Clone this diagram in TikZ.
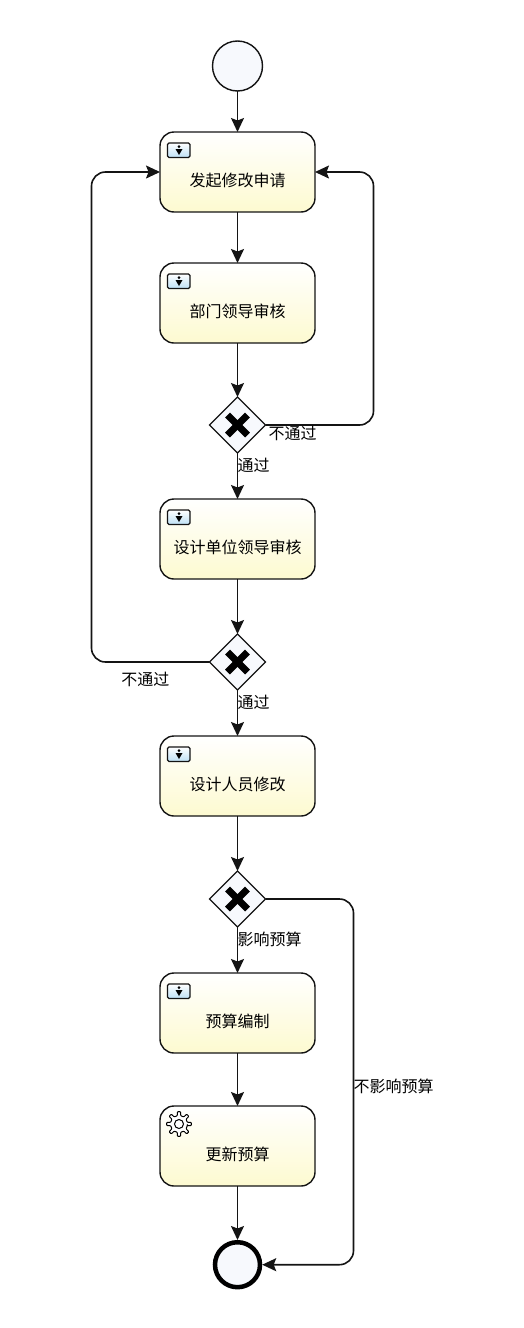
\documentclass[tikz,border=0pt]{standalone}
\usepackage{fontspec}
\newfontfamily\cjk{Noto Sans CJK SC}
\usepackage{tikz}
\usetikzlibrary{
  arrows.meta,
  positioning,
  shapes.geometric,
  calc
}
\definecolor{flowink}{RGB}{20,20,20}
\definecolor{eventfill}{RGB}{247,249,253}
\definecolor{taskyellow}{RGB}{253,250,208}
\definecolor{iconblue}{RGB}{190,225,245}
\tikzset{
  taskbox/.style={draw=flowink, line width=1.4pt, rounded corners=14pt,
    top color=white, bottom color=taskyellow, outer sep=0pt, inner sep=0pt,
    minimum width=155pt, minimum height=80pt,
    text height=31pt, text depth=3pt,
    font=\cjk\fontsize{16}{18}\selectfont},
  startev/.style={circle, draw=flowink, line width=1.4pt, fill=eventfill,
    minimum size=50pt, inner sep=0pt, outer sep=0pt},
  endev/.style={circle, draw=black, line width=4.5pt, fill=eventfill,
    minimum size=45pt, inner sep=0pt, outer sep=2.2pt},
  gatebox/.style={diamond, draw=flowink, line width=1.2pt, fill=eventfill,
    minimum size=56pt, inner sep=0pt, outer sep=0pt, aspect=1},
  arr/.style={-{Stealth[length=14pt, width=13pt, inset=2.5pt]},
    line width=1.6pt, draw=flowink},
  looparr/.style={arr, rounded corners=14pt},
  flowlab/.style={inner sep=0pt, font=\cjk\fontsize{16}{18}\selectfont,
    text height=13pt, text depth=3pt},
}
\newcommand{\gatecross}[1]{%
  \draw[line width=7pt, black] ($(#1)+(-10pt,-10pt)$) -- ($(#1)+(10pt,10pt)$);
  \draw[line width=7pt, black] ($(#1)+(-10pt,10pt)$) -- ($(#1)+(10pt,-10pt)$);
}
\newcommand{\manualicon}[1]{%
  \draw[line width=1.2pt, flowink, rounded corners=1.5pt, top color=white, bottom color=iconblue]
    ($(#1.north west)+(7.5pt,-11pt)$) rectangle ($(#1.north west)+(30pt,-25.5pt)$);
  \fill[black] ($(#1.north west)+(19pt,-14.5pt)$) circle (1.5pt);
  \fill[black] ($(#1.north west)+(15.5pt,-17pt)$) -- ($(#1.north west)+(22.5pt,-17pt)$)
    -- ($(#1.north west)+(19pt,-23pt)$) -- cycle;
}
\newcommand{\gearicon}[1]{%
  \coordinate (gearmid) at ($(#1.north west)+(19pt,-18pt)$);
  \begin{scope}[shift={(gearmid)}]
    \draw[line width=1pt, black, fill=white, rounded corners=0.8pt] (-11:8.5)
      foreach \a in {0,45,...,315} {
        -- (\a-11:8.5) -- (\a-7:12.5) -- (\a+7:12.5) -- (\a+11:8.5)
      } -- cycle;
    \draw[line width=1pt, black] (0,0) circle (4.5pt);
  \end{scope}
}
\begin{document}
\begin{tikzpicture}[x=1pt, y=1pt]
  \useasboundingbox (0,0) rectangle (523,-1328);

  % Main column, top to bottom
  \node[startev] (start) at (237.5,-66) {};
  \node[taskbox, below=41pt of start] (apply) {发起修改申请};
  \node[taskbox, below=51pt of apply] (dept) {部门领导审核};
  \node[gatebox, below=54pt of dept] (gateA) {};
  \node[taskbox, below=46pt of gateA] (unit) {设计单位领导审核};
  \node[gatebox, below=55pt of unit] (gateB) {};
  \node[taskbox, below=46pt of gateB] (modify) {设计人员修改};
  \node[gatebox, below=55pt of modify] (gateC) {};
  \node[taskbox, below=46pt of gateC] (budget) {预算编制};
  \node[taskbox, below=53pt of budget] (update) {更新预算};
  \node[endev, below=54pt of update] (stop) {};

  % Icons
  \manualicon{apply}
  \manualicon{dept}
  \manualicon{unit}
  \manualicon{modify}
  \manualicon{budget}
  \gearicon{update}
  \gatecross{gateA}
  \gatecross{gateB}
  \gatecross{gateC}

  % Straight flows
  \draw[arr] (start) -- (apply);
  \draw[arr] (apply) -- (dept);
  \draw[arr] (dept) -- (gateA);
  \draw[arr] (gateA) -- (unit);
  \draw[arr] (unit) -- (gateB);
  \draw[arr] (gateB) -- (modify);
  \draw[arr] (modify) -- (gateC);
  \draw[arr] (gateC) -- (budget);
  \draw[arr] (budget) -- (update);
  \draw[arr] (update) -- (stop);

  % Return flows and bypass
  \draw[looparr] (gateA.east) -- ++(108pt,0) |- (apply.east);
  \draw[looparr] (gateB.west) -- ++(-118pt,0) |- (apply.west);
  \draw[looparr] (gateC.east) -- ++(88pt,0) |- (stop.east);

  % Labels
  \node[flowlab, below right=1pt and 3pt of gateA.east] (gateAno) {不通过};
  \node[flowlab, below right=5pt and 0pt of gateA.south] (gateAyes) {通过};
  \node[flowlab, below left=10pt and 40pt of gateB.west] (gateBno) {不通过};
  \node[flowlab, below right=5pt and 0pt of gateB.south] (gateByes) {通过};
  \node[flowlab, below right=5pt and 0pt of gateC.south] (gateCyes) {影响预算};
  \node[flowlab, below right=180pt and 88pt of gateC.east] (gateCno) {不影响预算};
\end{tikzpicture}
\end{document}
